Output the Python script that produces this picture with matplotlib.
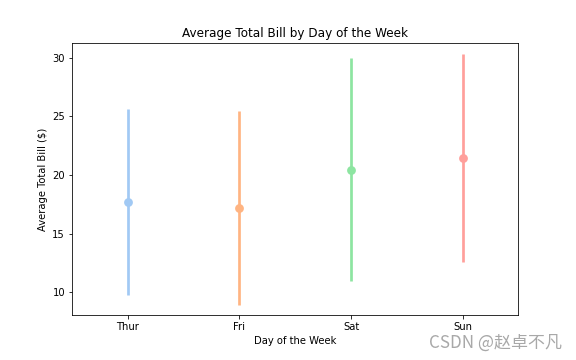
import matplotlib
matplotlib.use("Agg")
import matplotlib.pyplot as plt
import numpy as np

days = ["Thur", "Fri", "Sat", "Sun"]
means = [17.68, 17.15, 20.44, 21.41]
lows = [9.80, 8.95, 10.93, 12.55]
highs = [25.62, 25.43, 30.00, 30.26]
colors = ["#a1c9f4", "#ffb482", "#8de5a1", "#ff9f9b"]

fig = plt.figure(figsize=(8, 5), dpi=72)
ax = fig.add_subplot(111)
fig.subplots_adjust(left=0.125, right=0.9, top=0.88, bottom=0.125)

x = np.arange(len(days))
for i in range(len(days)):
    ax.plot([x[i], x[i]], [lows[i], highs[i]], color=colors[i], lw=2.7, solid_capstyle="butt", zorder=2)
    ax.scatter([x[i]], [means[i]], s=np.pi * 2.7**2 * 2, color=colors[i], linewidths=2.0, edgecolor=colors[i], zorder=3)

ax.set_xticks(x)
ax.set_xticklabels(days)
ax.set_xlim(-0.5, 3.5)
ax.set_ylim(8.06, 31.22)
ax.set_yticks([10, 15, 20, 25, 30])
ax.set_title("Average Total Bill by Day of the Week", fontsize=12)
ax.set_xlabel("Day of the Week", fontsize=10)
ax.set_ylabel("Average Total Bill ($)", fontsize=10)
ax.tick_params(labelsize=10)

fig.text(0.975, 0.048, "CSDN @赵卓不凡", ha="right", va="center", fontsize=17,
         color="#a8a8a8", fontweight="light", family=["Noto Sans CJK SC", "DejaVu Sans"])

fig.savefig("out.png", dpi=72)
